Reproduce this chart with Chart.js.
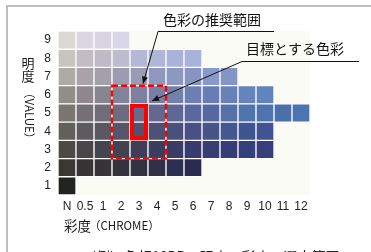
<!DOCTYPE html>
<html>
<head>
<meta charset="utf-8">
<script src="https://cdn.jsdelivr.net/npm/chart.js@4/dist/chart.umd.min.js"></script>
<style>
  html, body { margin: 0; padding: 0; background: #ffffff; }
  #wrap { width: 371px; height: 252px; position: relative; overflow: hidden; }
</style>
</head>
<body>
<div id="wrap"><canvas id="c" width="371" height="252"></canvas></div>
<script>
// ---- data ----
const chromaLabels = ['N', '0.5', '1', '2', '3', '4', '5', '6', '7', '8', '9', '10', '11', '12'];
const valueLevels = [1, 2, 3, 4, 5, 6, 7, 8, 9];
// number of chroma steps present (from N) for each value level 1..9
const cellsPerValue = [1, 8, 12, 12, 14, 12, 10, 8, 4];
const recommendedChroma = ['2', '4'];
const recommendedValue = [3, 6];
const targetChroma = ['3', '3'];
const targetValue = [4, 5];
const labelRecommended = '色彩の推奨範囲';
const labelTarget = '目標とする色彩';
const xTitleJa = '彩度';
const xTitleEn = '（CHROME）';
const yTitleJa = ['明', '度'];
const yTitleEn = '（VALUE）';
const caption = '（例）色相10PBの明度・彩度の選定範囲';

// ---- styles (cell colours per value level) ----
const cellColors = {
  1: ['#222420'],
  2: ['#3a3734', '#383436', '#363438', '#34323c', '#323242', '#303048', '#2e2e50', '#2c2a50'],
  3: ['#4c4946', '#4a4648', '#46444c', '#424250', '#3e3e56', '#3c3c5e', '#3a3c66', '#383c6c', '#363e72', '#363e76', '#34407a', '#363e7c'],
  4: ['#62605c', '#5e5a5e', '#5a5760', '#565668', '#52526e', '#4e5076', '#4a507c', '#485084', '#465488', '#445890', '#3e5490', '#405494'],
  5: ['#7a7672', '#767074', '#716d78', '#6c6c80', '#686a88', '#64688e', '#5e6896', '#5a689c', '#5668a0', '#5670a8', '#5274ac', '#4e74b0', '#4a70ac', '#4c74b0'],
  6: ['#918d8a', '#8f878d', '#898590', '#84829a', '#7e80a0', '#787ea6', '#7480ac', '#6e7eb0', '#6a7cb4', '#6a80b8', '#6684bc', '#6284bc'],
  7: ['#aeaaa6', '#aaa2a8', '#a4a0aa', '#9c9cb0', '#9a9cb6', '#9098bc', '#8c98c0', '#8894c4', '#8898c8', '#8494c8'],
  8: ['#c8c4c0', '#c4bcc4', '#bfbac8', '#bcbccc', '#b4b8d4', '#b0b6d8', '#aab2da', '#a8b2dc'],
  9: ['#dcd8d4', '#dcd6e0', '#d8d4e2', '#d8d6e8']
};

const datasets = valueLevels.map((v, vi) => {
  const n = cellsPerValue[vi];
  return {
    label: 'V' + v,
    data: chromaLabels.map((c, i) => (i < n ? [v - 0.5, v + 0.5] : null)),
    backgroundColor: chromaLabels.map((c, i) => (cellColors[v][i] || '#ffffff')),
    borderColor: '#ffffff',
    borderWidth: 1,
    borderSkipped: false,
    grouped: false,
    barPercentage: 1,
    categoryPercentage: 1
  };
});

function arrow(ctx, x0, y0, x1, y1) {
  ctx.beginPath();
  ctx.moveTo(x0, y0);
  ctx.lineTo(x1, y1);
  ctx.stroke();
  const a = Math.atan2(y1 - y0, x1 - x0);
  const L = 7, W = 3;
  ctx.beginPath();
  ctx.moveTo(x1, y1);
  ctx.lineTo(x1 - L * Math.cos(a) + W * Math.sin(a), y1 - L * Math.sin(a) - W * Math.cos(a));
  ctx.lineTo(x1 - L * Math.cos(a) - W * Math.sin(a), y1 - L * Math.sin(a) + W * Math.cos(a));
  ctx.closePath();
  ctx.fill();
}

const decor = {
  id: 'decor',
  beforeDraw(chart) {
    const { ctx, chartArea } = chart;
    ctx.save();
    ctx.fillStyle = '#fbfbf6';
    ctx.fillRect(chartArea.left, chartArea.top, chartArea.right - chartArea.left, chartArea.bottom - chartArea.top);
    // outer frame
    ctx.strokeStyle = '#aaaaaa';
    ctx.lineWidth = 1.5;
    ctx.beginPath();
    ctx.moveTo(7, 260);
    ctx.lineTo(7, 6);
    ctx.lineTo(380, 6);
    ctx.stroke();
    ctx.restore();
  },
  afterDatasetsDraw(chart) {
    const { ctx } = chart;
    const xs = chart.scales.x, ys = chart.scales.y;
    const half = (xs.getPixelForValue(1) - xs.getPixelForValue(0)) / 2;
    const edge = (lab, s) => xs.getPixelForValue(chromaLabels.indexOf(lab)) + s * half;
    ctx.save();
    // recommended range (dashed)
    const rl = edge(recommendedChroma[0], -1), rr = edge(recommendedChroma[1], 1);
    const rt = ys.getPixelForValue(recommendedValue[1] + 0.5), rb = ys.getPixelForValue(recommendedValue[0] - 0.5);
    ctx.strokeStyle = '#ff0000';
    ctx.lineWidth = 2.5;
    ctx.setLineDash([6, 3]);
    ctx.strokeRect(rl, rt, rr - rl, rb - rt);
    ctx.setLineDash([]);
    // target (solid)
    const tl = edge(targetChroma[0], -1), tr = edge(targetChroma[1], 1);
    const tt = ys.getPixelForValue(targetValue[1] + 0.5), tb = ys.getPixelForValue(targetValue[0] - 0.5);
    ctx.lineWidth = 4;
    ctx.strokeRect(tl + 2, tt + 2, tr - tl - 4, tb - tt - 4);

    // labels + leader lines
    ctx.fillStyle = '#111111';
    ctx.strokeStyle = '#111111';
    ctx.lineWidth = 1;
    ctx.font = '14px "Noto Sans CJK JP"';
    ctx.textBaseline = 'middle';
    ctx.textAlign = 'left';
    ctx.fillText(labelRecommended, 163, 20);
    ctx.beginPath();
    ctx.moveTo(158, 31.5); ctx.lineTo(274, 31.5); ctx.stroke();
    arrow(ctx, 158, 31.5, xs.getPixelForValue(chromaLabels.indexOf('3')) + 4, rt - 2);

    ctx.fillText(labelTarget, 246, 49);
    ctx.beginPath();
    ctx.moveTo(242, 61.5); ctx.lineTo(359, 61.5); ctx.stroke();
    arrow(ctx, 242, 61.5, tr + 4, tt - 3);

    // axis titles
    ctx.fillStyle = '#1a1a1a';
    ctx.textAlign = 'center';
    ctx.font = '13px "Noto Sans CJK JP"';
    ctx.fillText(yTitleJa[0], 28, 63);
    ctx.fillText(yTitleJa[1], 28, 76);
    ctx.save();
    ctx.translate(29, 87);
    ctx.rotate(Math.PI / 2);
    ctx.textAlign = 'left';
    ctx.font = '11.5px "Noto Sans CJK JP"';
    ctx.fillText(yTitleEn, 0, 0);
    ctx.restore();

    ctx.textAlign = 'left';
    ctx.font = '13.5px "Noto Sans CJK JP"';
    ctx.fillText(xTitleJa, 64, 226);
    ctx.font = '11.5px "Noto Sans CJK JP"';
    ctx.fillText(xTitleEn, 89, 226);

    ctx.font = '14px "Noto Sans CJK JP"';
    ctx.textBaseline = 'top';
    ctx.fillStyle = '#222222';
    ctx.fillText(caption, 82, 250);
    ctx.restore();
  }
};

new Chart(document.getElementById('c'), {
  type: 'bar',
  data: { labels: chromaLabels, datasets },
  options: {
    responsive: false,
    animation: false,
    layout: { padding: { left: 0, top: 31, right: 61, bottom: 0 } },
    plugins: { legend: { display: false }, tooltip: { enabled: false } },
    scales: {
      x: {
        type: 'category',
        offset: true,
        grid: { display: false, drawTicks: false },
        border: { display: false },
        ticks: { color: '#222222', font: { family: 'Liberation Sans', size: 12 }, padding: 4, maxRotation: 0, autoSkip: false },
        afterFit(s) { s.height = 57; }
      },
      y: {
        type: 'linear',
        min: 0.5,
        max: 9.5,
        grid: { display: false, drawTicks: false },
        border: { display: false },
        afterBuildTicks(s) { s.ticks = valueLevels.map(v => ({ value: v })); },
        ticks: { color: '#222222', font: { family: 'Liberation Sans', size: 12 }, padding: 7, callback: v => String(v) },
        afterFit(s) { s.width = 58; }
      }
    }
  },
  plugins: [decor]
});
</script>
</body>
</html>
